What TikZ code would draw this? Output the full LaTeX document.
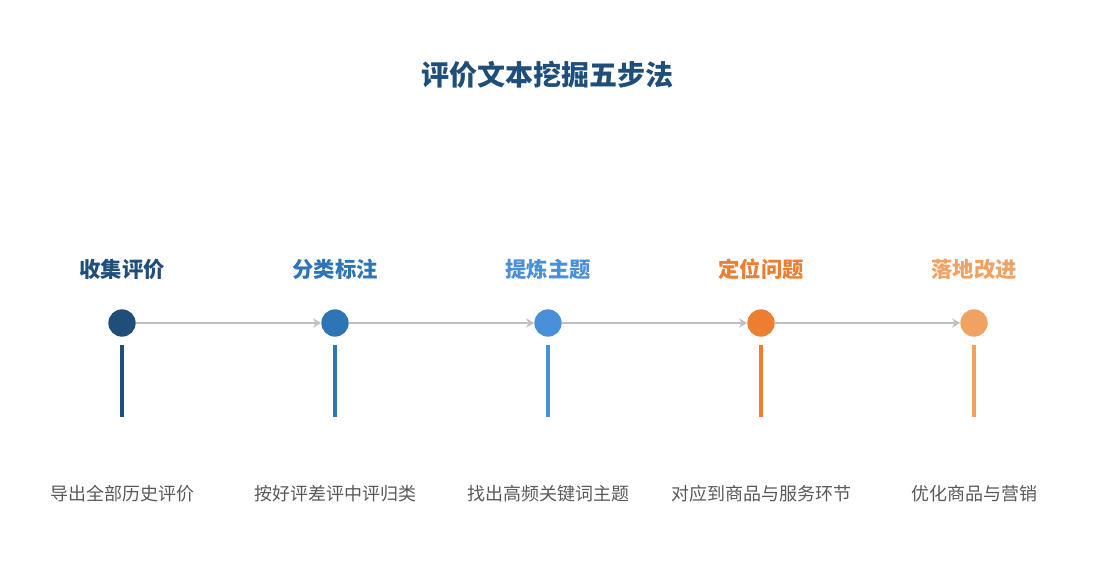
\documentclass[tikz,border=0pt]{standalone}
\usepackage{fontspec}
\setmainfont{Noto Sans CJK SC}
\usetikzlibrary{arrows.meta}
\definecolor{stepA}{HTML}{1F4E79}
\definecolor{stepB}{HTML}{2E75B6}
\definecolor{stepC}{HTML}{4A90D9}
\definecolor{stepD}{HTML}{ED7D31}
\definecolor{stepE}{HTML}{F0A262}
\definecolor{linkgray}{HTML}{C0C0C0}
\definecolor{textgray}{HTML}{595959}
\begin{document}
\begin{tikzpicture}[
  x=0.75pt, y=-0.75pt,
  dot/.style={circle, fill=#1, minimum size=20.5pt, inner sep=0pt},
  step/.style={font=\fontsize{16}{18}\selectfont\bfseries, text=#1},
  desc/.style={font=\fontsize{13.5}{15}\selectfont, text=textgray},
  link/.style={linkgray, line width=2.2pt, -{Stealth[length=6pt, width=7pt]}},
  stem/.style={line width=2.6pt, draw=#1}
  ]
  \useasboundingbox (0,0) rectangle (1095,585);

  \node[font=\fontsize{21}{24}\selectfont\bfseries, text=stepA] (title) at (547,75) {评价文本挖掘五步法};

  % steps: index / x / colour / name / description
  \foreach \i/\x/\c/\name/\txt in {
      1/122/stepA/收集评价/导出全部历史评价,
      2/335/stepB/分类标注/按好评差评中评归类,
      3/548/stepC/提炼主题/找出高频关键词主题,
      4/761/stepD/定位问题/对应到商品与服务环节,
      5/974/stepE/落地改进/优化商品与营销}{
    \node[dot=\c] (d\i) at (\x,323) {};
    \node[step=\c] (s\i) at (\x,269) {\name};
    \node[desc] (t\i) at (\x,494) {\txt};
    \coordinate (a\i) at (\x,345);
    \coordinate (b\i) at (\x,417);
    \draw[stem=\c] (a\i) -- (b\i);
  }

  % connectors between steps
  \foreach \i/\j in {1/2, 2/3, 3/4, 4/5}
    \draw[link] (d\i) -- (d\j);

\end{tikzpicture}
\end{document}
